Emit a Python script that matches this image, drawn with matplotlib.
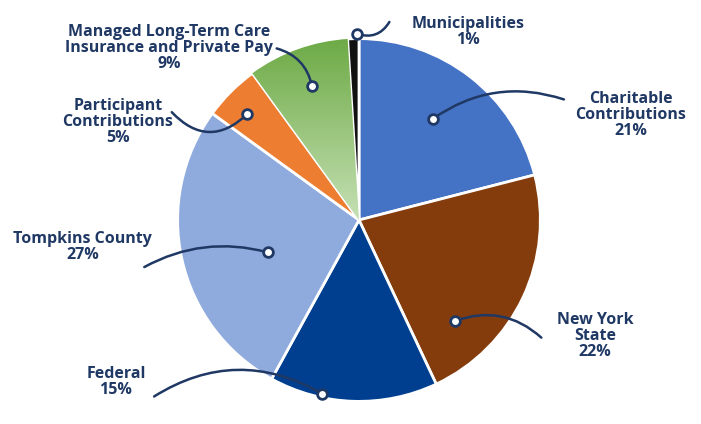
import matplotlib.pyplot as plt
import numpy as np
from matplotlib.colors import LinearSegmentedColormap

labels = ["Charitable\nContributions\n21%", "New York\nState\n22%", "Federal\n15%",
          "Tompkins County\n27%", "Participant\nContributions\n5%",
          "Managed Long-Term Care\nInsurance and Private Pay\n9%", "Municipalities\n1%"]
values = [21, 22, 15, 27, 5, 9, 1]
colors = ["#4472C4", "#843C0C", "#003F8F", "#8FAADC", "#ED7D31", "#70AD47", "#111111"]
navy = "#1F3864"

fig = plt.figure(figsize=(7.01, 4.24), dpi=100)
ax = fig.add_axes([(359-185)/701, (424-405)/424, 370/701, 370/424])
wedges, _ = ax.pie(values, colors=colors, startangle=90, counterclock=False,
                   wedgeprops=dict(edgecolor="white", linewidth=2))
gw = wedges[5]
grad = np.linspace(1, 0, 256).reshape(-1, 1)
cmap = LinearSegmentedColormap.from_list("g", ["#6DAA45", "#C5E0B4"])
im = ax.imshow(grad, extent=[-1, 1, 0, 1], origin="lower", cmap=cmap, aspect="auto",
               zorder=gw.get_zorder())
im.set_clip_path(gw)
gw.set_facecolor("none")
ax.set_xlim(-1.02, 1.02); ax.set_ylim(-1.02, 1.02)
ax.set_aspect("equal"); ax.axis("off")

def d(px, py):
    return ((px-359)/185, (220-py)/185)

specs = [
    ((434,117), (636,113), (568,97), 0.25),
    ((457,323), (600,338), (545,340), 0.3),
    ((321,397), (111,385), (150,400), -0.3),
    ((266,253), (77,248), (140,268), -0.2),
    ((245,112), (113,120), (168,110), 0.5),
    ((311,83), (165,45), (275,45), -0.3),
    ((357,30), (470,28), (390,18), -0.4),
]
for lab, (m, t, e, rad) in zip(labels, specs):
    mx, my = d(*m); ex, ey = d(*e); tx, ty = d(*t)
    ax.annotate("", xy=(mx, my), xytext=(ex, ey), annotation_clip=False,
                arrowprops=dict(arrowstyle="-", color=navy, lw=1.8,
                                connectionstyle=f"arc3,rad={rad}", shrinkA=0, shrinkB=0))
    ax.plot(mx, my, "o", ms=7, mfc="white", mec=navy, mew=2, zorder=10, clip_on=False)
    ax.text(tx, ty, lab, ha="center", va="center", color=navy, fontsize=11.5,
            fontweight="bold", family="Open Sans", linespacing=1.0, clip_on=False)

fig.savefig("out.png", dpi=100)
